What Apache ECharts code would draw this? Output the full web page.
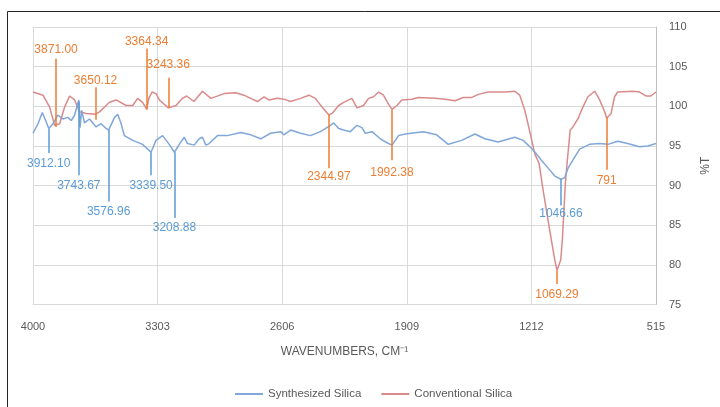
<!DOCTYPE html>
<html>
<head>
<meta charset="utf-8">
<script src="https://cdn.jsdelivr.net/npm/echarts@6/dist/echarts.min.js"></script>
<style>
  html, body { margin: 0; padding: 0; background: #ffffff; }
  #chart { width: 720px; height: 407px; }
</style>
</head>
<body>
<div id="chart"></div>
<script>
// FTIR spectra: wavenumber (cm-1) and transmittance (%T)
const xTickValues = [4000, 3303, 2606, 1909, 1212, 515];

const synthesizedWn = [4000, 3972, 3948, 3929, 3912, 3888, 3861, 3833, 3805, 3786, 3767, 3758, 3744, 3737, 3728, 3712,
  3684, 3647, 3619, 3591, 3577, 3544, 3526, 3507, 3489, 3442, 3387, 3340, 3312, 3275, 3238, 3209, 3173, 3154, 3136,
  3098, 3070, 3052, 3033, 3015, 2968, 2913, 2838, 2782, 2726, 2671, 2615, 2597, 2559, 2503, 2448, 2392, 2336, 2318,
  2290, 2262, 2225, 2188, 2160, 2141, 2104, 2057, 2020, 1992, 1955, 1918, 1816, 1742, 1677, 1602, 1528, 1472, 1398,
  1305, 1258, 1212, 1184, 1156, 1118, 1081, 1047, 1026, 1007, 970, 942, 887, 831, 784, 729, 674, 607, 561, 515];
const synthesizedT = [96.6, 97.8, 99.2, 98.2, 97.2, 97.8, 98.9, 98.4, 98.6, 98.2, 98.9, 98.7, 100.8, 97.3, 99.5, 97.9,
  98.4, 97.4, 97.8, 97.2, 97.0, 98.6, 99.0, 97.8, 96.3, 95.7, 95.2, 94.2, 95.7, 96.3, 95.2, 94.2, 95.5, 96.1, 95.3,
  95.1, 95.9, 96.1, 95.1, 95.3, 96.3, 96.3, 96.7, 96.4, 95.9, 96.6, 96.8, 96.4, 97.0, 96.6, 96.3, 96.8, 97.6, 97.9,
  97.2, 97.0, 96.8, 97.6, 97.3, 96.6, 96.8, 95.9, 95.4, 95.1, 96.3, 96.5, 96.8, 96.4, 95.2, 95.7, 96.5, 95.9, 95.5,
  96.1, 95.7, 94.7, 94.0, 93.2, 92.2, 91.2, 90.8, 91.0, 92.2, 93.6, 94.6, 95.2, 95.3, 95.2, 95.6, 95.3, 94.9, 95.0, 95.3];

const conventionalWn = [4000, 3944, 3907, 3879, 3871, 3851, 3823, 3795, 3767, 3740, 3702, 3650, 3628, 3572, 3535, 3479,
  3442, 3415, 3387, 3364, 3352, 3334, 3312, 3293, 3243, 3200, 3164, 3140, 3100, 3052, 3005, 2931, 2866, 2820, 2782,
  2745, 2708, 2680, 2634, 2597, 2559, 2503, 2457, 2420, 2383, 2345, 2327, 2290, 2262, 2216, 2206, 2188, 2151, 2123,
  2095, 2067, 2040, 2012, 1992, 1964, 1937, 1881, 1844, 1751, 1696, 1639, 1593, 1547, 1509, 1454, 1360, 1305, 1277,
  1249, 1221, 1193, 1169, 1147, 1128, 1100, 1081, 1069, 1048, 1039, 1030, 1022, 1011, 995, 980, 952, 924, 896, 858,
  830, 802, 791, 766, 747, 729, 645, 607, 571, 544, 515];
const conventionalT = [101.8, 101.4, 99.9, 97.6, 97.4, 97.8, 99.9, 101.3, 100.8, 99.3, 99.1, 99.0, 99.3, 100.5, 100.8, 100.1,
  100.1, 101.0, 100.5, 99.6, 101.0, 101.8, 101.6, 100.8, 99.8, 100.1, 101.0, 101.3, 100.6, 101.9, 101.0, 101.6, 101.7, 101.4, 101.0,
  100.6, 101.2, 100.8, 101.0, 100.9, 100.6, 101.0, 101.4, 101.0, 99.9, 98.9, 99.1, 100.1, 100.5, 101.0, 101.0, 99.8, 100.1, 101.0,
  101.2, 101.8, 101.4, 100.3, 99.6, 100.1, 100.8, 100.9, 101.1, 101.0, 100.9, 100.7, 101.1, 101.1, 101.5, 101.8, 101.8, 101.9, 101.4,
  99.5, 96.8, 94.0, 92.8, 89.5, 86.9, 83.1, 80.6, 79.3, 80.6, 83.1, 86.9, 90.3, 93.2, 97.0, 97.4, 98.4, 99.9, 101.2, 101.9,
  100.8, 99.3, 98.5, 99.1, 101.2, 101.8, 101.9, 101.8, 101.3, 101.3, 101.8];

// Peak callouts: wavenumber, leader line span (%T), label side and gap
const conventionalPeakWn = [3871.00, 3650.12, 3364.34, 3243.36, 2344.97, 1992.38, 1069.29, 791];
const conventionalPeakText = ['3871.00', '3650.12', '3364.34', '3243.36', '2344.97', '1992.38', '1069.29', '791'];
const conventionalPeakTop = [106.0, 102.4, 107.3, 103.6, 99.0, 99.6, 79.3, 98.6];
const conventionalPeakBottom = [97.4, 98.3, 99.6, 99.8, 92.2, 93.2, 77.6, 92.0];
const conventionalPeakSide = ['top', 'top', 'top', 'top', 'bottom', 'bottom', 'bottom', 'bottom'];
const conventionalPeakGap = [3, 1, 1, 7, 3, 6, 5, 5];

const synthesizedPeakWn = [3912.10, 3743.67, 3576.96, 3339.50, 3208.88, 1046.66];
const synthesizedPeakText = ['3912.10', '3743.67', '3576.96', '3339.50', '3208.88', '1046.66'];
const synthesizedPeakTop = [97.2, 100.6, 97.0, 94.2, 94.2, 90.8];
const synthesizedPeakBottom = [94.1, 91.3, 88.0, 91.3, 85.9, 87.5];
const synthesizedPeakGap = [5, 4, 4, 4, 4, 2];

const FONT = "'Liberation Sans', Arial, sans-serif";
const GREY_TEXT = '#595959';
const GRID = '#D9D9D9';
const ORANGE = '#ED7D31';
const BLUE_TEXT = '#5B9BD5';

function pairs(xs, ys) {
  return xs.map((x, i) => [x, ys[i]]);
}

function callouts(wn, text, top, bottom, side, gap, color) {
  return wn.map((w, i) => {
    const above = side[i] === 'top';
    return [
      {
        coord: [w, top[i]],
        label: {
          show: true,
          formatter: text[i],
          position: above ? 'start' : 'end',
          distance: gap[i],
          color: color,
          fontFamily: FONT,
          fontSize: 12
        }
      },
      { coord: [w, bottom[i]] }
    ];
  });
}

const chart = echarts.init(document.getElementById('chart'), null, { renderer: 'canvas' });

chart.setOption({
  animation: false,
  backgroundColor: '#ffffff',
  graphic: [{
    type: 'rect',
    silent: true,
    shape: { x: 7.5, y: 11.5, width: 800, height: 500 },
    style: { fill: 'none', stroke: '#262626', lineWidth: 1 }
  }],
  grid: { left: 33, right: 61, top: 27, bottom: 102.5, containLabel: false },
  legend: {
    left: 230,
    top: 383,
    itemWidth: 28,
    itemHeight: 2,
    itemGap: 20,
    icon: 'rect',
    textStyle: { color: GREY_TEXT, fontFamily: FONT, fontSize: 11.5 },
    data: ['Synthesized Silica', 'Conventional Silica']
  },
  xAxis: {
    type: 'value',
    inverse: true,
    min: 515,
    max: 4000,
    interval: 697,
    name: 'WAVENUMBERS, CM⁻¹',
    nameLocation: 'middle',
    nameGap: 41,
    nameTextStyle: { color: GREY_TEXT, fontFamily: FONT, fontSize: 12 },
    axisLine: { show: true, lineStyle: { color: GRID, width: 1 } },
    axisTick: { show: false },
    axisLabel: {
      color: GREY_TEXT, fontFamily: FONT, fontSize: 11, margin: 17,
      formatter: v => (xTickValues.includes(v) ? String(v) : '')
    },
    splitLine: { show: true, lineStyle: { color: GRID, width: 1 } }
  },
  yAxis: {
    type: 'value',
    position: 'right',
    min: 75,
    max: 110,
    interval: 5,
    name: '%T',
    nameLocation: 'middle',
    nameRotate: 90,
    nameGap: 44,
    nameTextStyle: { color: GREY_TEXT, fontFamily: FONT, fontSize: 12 },
    axisLine: { show: true, lineStyle: { color: '#BFBFBF', width: 1 } },
    axisTick: { show: false },
    axisLabel: { color: GREY_TEXT, fontFamily: FONT, fontSize: 11, margin: 13 },
    splitLine: { show: true, lineStyle: { color: GRID, width: 1 } }
  },
  series: [
    {
      name: 'Synthesized Silica',
      type: 'line',
      showSymbol: false,
      symbol: 'none',
      color: '#7FA7D9',
      lineStyle: { color: '#7FA7D9', width: 1.5 },
      data: pairs(synthesizedWn, synthesizedT),
      z: 3,
      markLine: {
        silent: true,
        symbol: 'none',
        animation: false,
        lineStyle: { color: '#5B9BD5', width: 1.5, type: 'solid' },
        emphasis: { disabled: true },
        data: callouts(synthesizedPeakWn, synthesizedPeakText, synthesizedPeakTop, synthesizedPeakBottom,
          synthesizedPeakWn.map(() => 'bottom'), synthesizedPeakGap, BLUE_TEXT)
      }
    },
    {
      name: 'Conventional Silica',
      type: 'line',
      showSymbol: false,
      symbol: 'none',
      color: '#DA8A8A',
      lineStyle: { color: '#DA8A8A', width: 1.5 },
      data: pairs(conventionalWn, conventionalT),
      z: 2,
      markLine: {
        silent: true,
        symbol: 'none',
        animation: false,
        lineStyle: { color: ORANGE, width: 1.5, type: 'solid' },
        emphasis: { disabled: true },
        data: callouts(conventionalPeakWn, conventionalPeakText, conventionalPeakTop, conventionalPeakBottom,
          conventionalPeakSide, conventionalPeakGap, ORANGE)
      }
    }
  ]
});
</script>
</body>
</html>
